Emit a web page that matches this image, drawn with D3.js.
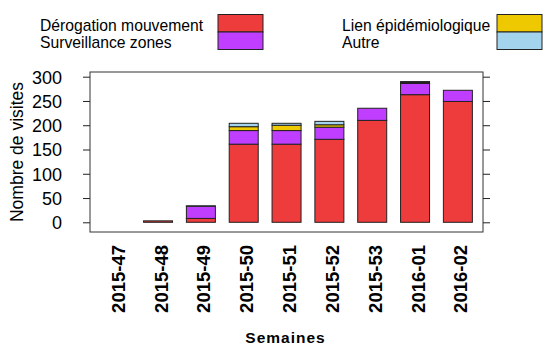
<!DOCTYPE html>
<html><head><meta charset="utf-8">
<script src="https://cdn.jsdelivr.net/npm/d3@7"></script>
<style>body{margin:0;background:#fff}svg{display:block}text{font-family:"Liberation Sans",Arial,sans-serif}</style>
</head><body>
<script>
const weeks = ["2015-47","2015-48","2015-49","2015-50","2015-51","2015-52","2015-53","2016-01","2016-02"];
const derogation   = [0, 3, 8, 161, 161, 171, 210, 263, 249];
const surveillance = [0, 0, 25, 28, 28, 25, 25, 23, 23];
const lien         = [0, 0, 0, 8, 11, 5, 0, 2, 0];
const autre        = [0, 0, 1, 7, 4, 7, 0, 2, 0];
const seriesNames  = ["Dérogation mouvement","Surveillance zones","Lien épidémiologique","Autre"];
const seriesColors = ["#EE3B3B","#BF3EFF","#EEC900","#A4D3EE"];
const yTicks = [0,50,100,150,200,250,300];

const W=557,H=358;
const svg=d3.select("body").append("svg").attr("width",W).attr("height",H);
const box={l:90,r:483,t:72,b:232};
const x=d3.scaleBand().domain(weeks).range([93.8,479.3]).paddingInner(0.323).paddingOuter(0.1615);
const y=d3.scaleLinear().domain([0,300]).range([222.3,76.7]);

const rows=weeks.map((w,i)=>({week:w,"Dérogation mouvement":derogation[i],"Surveillance zones":surveillance[i],"Lien épidémiologique":lien[i],"Autre":autre[i]}));
const stack=d3.stack().keys(seriesNames)(rows);

stack.forEach((s,k)=>{
  svg.append("g").selectAll("rect").data(s).join("rect")
    .attr("x",d=>x(d.data.week)).attr("width",x.bandwidth())
    .attr("y",d=>y(d[1])).attr("height",d=>y(d[0])-y(d[1]))
    .attr("fill",seriesColors[k]).attr("stroke","#222").attr("stroke-width",1)
    .attr("display",d=>d[1]-d[0]>0?null:"none");
});

svg.append("rect").attr("x",box.l).attr("y",box.t).attr("width",box.r-box.l).attr("height",box.b-box.t)
  .attr("fill","none").attr("stroke","#333").attr("stroke-width",1);

const yl=svg.append("g").attr("transform",`translate(${box.l},0)`).call(d3.axisLeft(y).tickValues(yTicks).tickSize(7).tickPadding(21));
yl.select(".domain").remove();
yl.selectAll("line").attr("stroke","#222");
yl.selectAll("text").attr("font-size",18).attr("fill","#000").attr("dy","0.36em");
const yr=svg.append("g").attr("transform",`translate(${box.r},0)`).call(d3.axisRight(y).tickValues(yTicks).tickSize(7).tickFormat(""));
yr.select(".domain").remove();
yr.selectAll("line").attr("stroke","#222");

weeks.forEach(w=>{
  svg.append("text").attr("transform",`translate(${x(w)+x.bandwidth()/2+3},245) rotate(-90)`)
    .attr("text-anchor","end").attr("dy","0.35em").attr("font-size",18.5).attr("font-weight","bold").text(w);
});

svg.append("text").attr("x",285.5).attr("y",343).attr("text-anchor","middle").attr("font-size",15.5).attr("font-weight","bold").attr("letter-spacing","1").text("Semaines");
svg.append("text").attr("transform","translate(23,152) rotate(-90)").attr("text-anchor","middle").attr("font-size",17.5).text("Nombre de visites");

const leg=[{tx:40,bx:218,k:[0,1]},{tx:342,bx:497,k:[2,3]}];
leg.forEach(L=>{
  L.k.forEach((k,j)=>{
    svg.append("rect").attr("x",L.bx).attr("y",14.5+j*17.5).attr("width",45).attr("height",17.5)
      .attr("fill",seriesColors[k]).attr("stroke","#222");
    svg.append("text").attr("x",L.tx).attr("y",30.5+j*17.5).attr("font-size",15.7).text(seriesNames[k]);
  });
});
</script>
</body></html>
